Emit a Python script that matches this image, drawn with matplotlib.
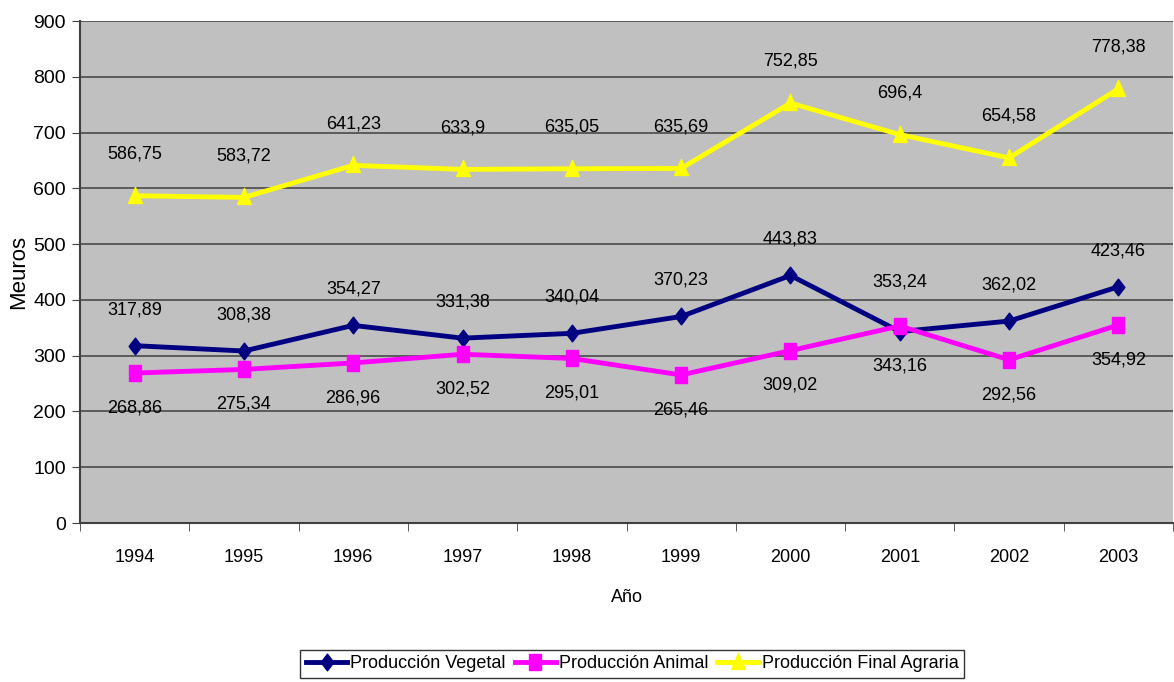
import numpy as np
import matplotlib.pyplot as plt
from matplotlib.path import Path

plt.rcParams['font.family'] = ['Liberation Sans', 'DejaVu Sans']

years = ['1994', '1995', '1996', '1997', '1998', '1999', '2000', '2001', '2002', '2003']
vegetal = [317.89, 308.38, 354.27, 331.38, 340.04, 370.23, 443.83, 343.16, 362.02, 423.46]
animal = [268.86, 275.34, 286.96, 302.52, 295.01, 265.46, 309.02, 353.24, 292.56, 354.92]
final = [586.75, 583.72, 641.23, 633.9, 635.05, 635.69, 752.85, 696.4, 654.58, 778.38]

# label direction (+1 above, -1 below); 2001 swapped like in the original
veg_pos = [1, 1, 1, 1, 1, 1, 1, -1, 1, 1]
ani_pos = [-1, -1, -1, -1, -1, -1, -1, 1, -1, -1]

def fmt(v):
    return ('%g' % v).replace('.', ',')

# slightly tall markers (original is stretched vertically)
diamond = Path([(0, 1.3), (1, 0), (0, -1.3), (-1, 0), (0, 1.3)], closed=True)
square = Path([(-1, -1.3), (1, -1.3), (1, 1.3), (-1, 1.3), (-1, -1.3)], closed=True)
triangle = Path([(0, 1.3), (1, -1.0), (-1, -1.0), (0, 1.3)], closed=True)

fig = plt.figure(figsize=(11.74, 6.82), dpi=100, facecolor='white')
ax = fig.add_axes([80 / 1174, 1 - 523 / 682, 1093 / 1174, 502 / 682])
ax.set_facecolor('#C0C0C0')

x = np.arange(len(years))
ax.plot(x, vegetal, color='#000080', lw=3.5, marker=diamond, ms=12, label='Producción Vegetal', zorder=3)
ax.plot(x, animal, color='#FF00FF', lw=3.5, marker=square, ms=11, label='Producción Animal', zorder=4)
ax.plot(x, final, color='#FFFF00', lw=3.5, marker=triangle, ms=13, label='Producción Final Agraria', zorder=3)

fs = 13
for i in range(len(years)):
    d = 26 if veg_pos[i] > 0 else -25
    ax.annotate(fmt(vegetal[i]), (x[i], vegetal[i]), xytext=(0, d), textcoords='offset points',
                ha='center', va='center', fontsize=fs)
    d = -25 if ani_pos[i] < 0 else 32
    ax.annotate(fmt(animal[i]), (x[i], animal[i]), xytext=(0, d), textcoords='offset points',
                ha='center', va='center', fontsize=fs)
    ax.annotate(fmt(final[i]), (x[i], final[i]), xytext=(0, 30), textcoords='offset points',
                ha='center', va='center', fontsize=fs)

ax.set_xlim(-0.5, len(years) - 0.5)
ax.set_ylim(0, 900)
ax.set_yticks(np.arange(0, 901, 100))
ax.yaxis.grid(True, color='#4a4a4a', lw=1.2)
ax.set_axisbelow(True)

ax.set_xticks(x)
ax.set_xticklabels(years, fontsize=13)
ax.set_xticks(np.arange(-0.5, len(years)), minor=True)
ax.tick_params(axis='x', which='major', length=0, pad=19)
ax.tick_params(axis='x', which='minor', length=6, color='#404040')
ax.tick_params(axis='y', length=6, color='#404040', labelsize=14, pad=4)

for s in ['top', 'right']:
    ax.spines[s].set_visible(False)
ax.spines['left'].set_color('#404040')
ax.spines['bottom'].set_color('#404040')
ax.spines['left'].set_linewidth(1.5)
ax.spines['bottom'].set_linewidth(1.5)

ax.set_xlabel('Año', fontsize=13, labelpad=16)
ax.set_ylabel('Meuros', fontsize=16, labelpad=3)

leg = fig.legend(loc='center', bbox_to_anchor=(632 / 1174, 1 - 664 / 682), ncol=3, fontsize=13,
                 frameon=True, fancybox=False, edgecolor='black', borderpad=0.3,
                 handlelength=2.3, handletextpad=0.15, columnspacing=0.5)
leg.get_frame().set_linewidth(1.0)

fig.savefig('out.png', dpi=100, facecolor='white')
